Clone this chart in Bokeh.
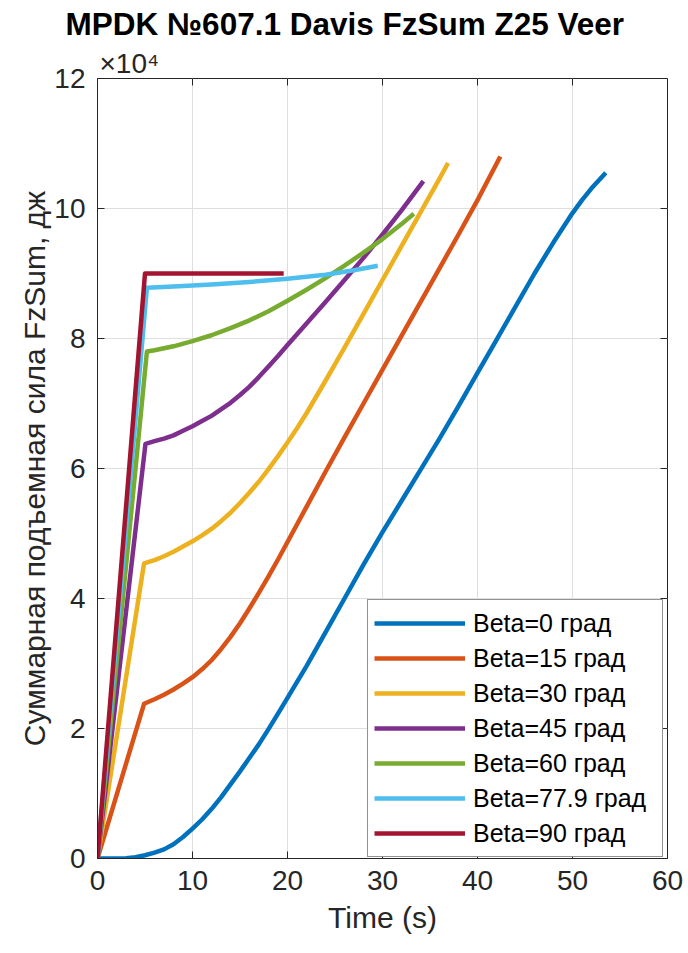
import math
from bokeh.plotting import figure
from bokeh.models import Range1d, FixedTicker, Title
from bokeh.embed import file_html
from bokeh.resources import INLINE

# Summed lift force FzSum (in units of 1e4) versus time for each veer angle Beta
t_beta0 = [0, 2, 3, 4, 5, 6, 7, 8, 9, 10, 11, 12, 13, 14, 15, 16, 17, 18, 19, 20,
           22, 24, 26, 28, 30, 32, 34, 36, 38, 40, 42, 44, 46, 48, 50, 51, 52, 53, 53.5]
fz_beta0 = [0, 0, 0.005, 0.02, 0.05, 0.09, 0.14, 0.22, 0.33, 0.46, 0.6, 0.76, 0.94, 1.14, 1.34, 1.55, 1.76, 1.99, 2.23, 2.47,
            2.96, 3.48, 4.0, 4.52, 5.02, 5.5, 5.98, 6.46, 6.96, 7.47, 7.98, 8.49, 9.0, 9.48, 9.93, 10.13, 10.31, 10.47, 10.55]

t_beta15 = [0, 4.9, 6, 7, 8, 9, 10, 11, 12, 13, 14, 15, 16, 17, 18, 19, 20,
            22, 24, 26, 28, 30, 32, 34, 36, 38, 40, 42.4]
fz_beta15 = [0, 2.38, 2.45, 2.52, 2.6, 2.69, 2.79, 2.91, 3.05, 3.22, 3.41, 3.62, 3.85, 4.09, 4.34, 4.6, 4.87,
             5.41, 5.95, 6.48, 7.0, 7.52, 8.04, 8.56, 9.08, 9.6, 10.13, 10.8]

t_beta30 = [0, 4.9, 6, 7, 8, 9, 10, 11, 12, 13, 14, 15, 16, 17, 18, 19, 20, 21, 22,
            24, 26, 28, 30, 32, 34, 36, 36.9]
fz_beta30 = [0, 4.54, 4.59, 4.65, 4.72, 4.8, 4.88, 4.97, 5.07, 5.19, 5.32, 5.47, 5.63, 5.8, 5.99, 6.19, 6.4, 6.62, 6.85,
             7.35, 7.86, 8.38, 8.9, 9.42, 9.94, 10.46, 10.7]

t_beta45 = [0, 5.05, 6, 7, 8, 9, 10, 11, 12, 13, 14, 15, 16, 17, 18, 19, 20,
            22, 24, 26, 28, 30, 32, 34.3]
fz_beta45 = [0, 6.38, 6.42, 6.46, 6.51, 6.58, 6.65, 6.73, 6.81, 6.91, 7.01, 7.13, 7.26, 7.41, 7.57, 7.73, 7.9,
             8.23, 8.56, 8.9, 9.24, 9.6, 9.97, 10.42]

t_beta60 = [0, 5.2, 6, 8, 10, 12, 14, 16, 18, 20, 22, 24, 26, 28, 30, 32, 33.3]
fz_beta60 = [0, 7.8, 7.82, 7.88, 7.96, 8.05, 8.16, 8.28, 8.42, 8.58, 8.75, 8.93, 9.12, 9.32, 9.53, 9.76, 9.92]

t_beta779 = [0, 5.2, 8, 12, 16, 20, 24, 27, 29.5]
fz_beta779 = [0, 8.78, 8.8, 8.83, 8.87, 8.92, 8.98, 9.05, 9.12]

t_beta90 = [0, 5.0, 19.6]
fz_beta90 = [0, 9.0, 9.0]

series_labels = ["Beta=0 град", "Beta=15 град", "Beta=30 град", "Beta=45 град",
                 "Beta=60 град", "Beta=77.9 град", "Beta=90 град"]
series_colors = ["#0072BD", "#D95319", "#EDB120", "#7E2F8E", "#77AC30", "#4DBEEE", "#A2142F"]

x_ticks = [0, 10, 20, 30, 40, 50, 60]
y_ticks = [0, 2, 4, 6, 8, 10, 12]
X_MAX, Y_MAX = 60, 12

AX = "#262626"

p = figure(width=688, height=953, x_range=Range1d(0, X_MAX), y_range=Range1d(0, Y_MAX),
           output_backend="svg", toolbar_location=None, title=None,
           min_border_left=97, min_border_right=21, min_border_top=78, min_border_bottom=95,
           background_fill_color="white", border_fill_color="white")

# exponent of the y axis, just above the top-left corner of the box
p.add_layout(Title(text="×10⁴", align="left", offset=2, standoff=0,
                   text_font="Liberation Sans", text_font_size="28px",
                   text_font_style="normal", text_color=AX), "above")
# main title
p.add_layout(Title(text="MPDK №607.1 Davis FzSum Z25 Veer", align="left", offset=-32, standoff=7,
                   text_font="Liberation Sans", text_font_size="31.5px",
                   text_font_style="bold", text_color="#000000"), "above")

p.outline_line_color = AX
p.outline_line_width = 1

for ax in (p.xaxis[0], p.yaxis[0]):
    ax.major_tick_in = 7
    ax.major_tick_out = 0
    ax.minor_tick_line_color = None
    ax.axis_line_color = AX
    ax.major_tick_line_color = AX
    ax.major_label_text_color = AX
    ax.major_label_text_font = "Liberation Sans"
    ax.major_label_text_font_size = "28px"
    ax.major_label_standoff = 12
    ax.axis_label_text_font = "Liberation Sans"
    ax.axis_label_text_font_size = "30px"
    ax.axis_label_text_font_style = "normal"
    ax.axis_label_text_color = AX

p.xaxis[0].ticker = FixedTicker(ticks=x_ticks)
p.yaxis[0].ticker = FixedTicker(ticks=y_ticks)
p.xaxis[0].axis_label = "Time (s)"
p.yaxis[0].axis_label = "Суммарная подъемная сила FzSum, дж"
p.xaxis[0].axis_label_standoff = 8
p.yaxis[0].axis_label_standoff = 0

p.xgrid.ticker = FixedTicker(ticks=x_ticks)
p.ygrid.ticker = FixedTicker(ticks=y_ticks)
p.xgrid.grid_line_color = "#dedede"
p.ygrid.grid_line_color = "#dedede"
p.xgrid.grid_line_width = 1
p.ygrid.grid_line_width = 1

# inward tick marks on the top and right edges of the box
p.ray(x=x_ticks, y=[Y_MAX] * len(x_ticks), length=7, length_units="screen",
      angle=-math.pi / 2, line_color=AX, line_width=1)
p.ray(x=[X_MAX] * len(y_ticks), y=y_ticks, length=7, length_units="screen",
      angle=math.pi, line_color=AX, line_width=1)

series = [(t_beta0, fz_beta0), (t_beta15, fz_beta15), (t_beta30, fz_beta30),
          (t_beta45, fz_beta45), (t_beta60, fz_beta60), (t_beta779, fz_beta779),
          (t_beta90, fz_beta90)]
for (tt, ff), lab, col in zip(series, series_labels, series_colors):
    p.line(tt, ff, line_color=col, line_width=4.5, line_join="round", legend_label=lab)

lg = p.legend[0]
lg.location = (270, 1)
lg.label_text_font = "Liberation Sans"
lg.label_text_font_size = "25px"
lg.label_text_color = "#000000"
lg.glyph_width = 91
lg.glyph_height = 34
lg.label_height = 34
lg.label_width = 183
lg.spacing = 1
lg.padding = 6
lg.margin = 0
lg.label_standoff = 8
lg.border_line_color = AX
lg.border_line_width = 1
lg.background_fill_color = "white"
lg.background_fill_alpha = 1.0

open("out.html", "w").write(file_html(p, INLINE))
